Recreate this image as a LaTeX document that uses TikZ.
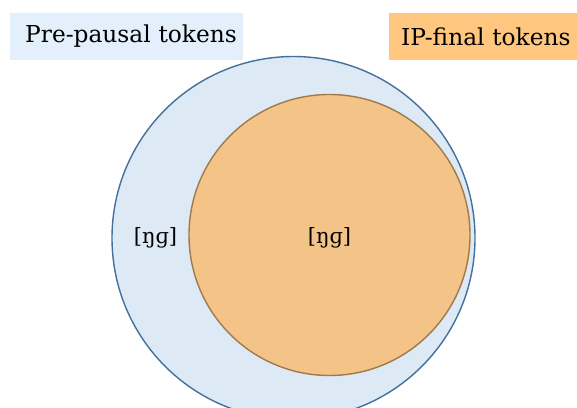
\documentclass[tikz,border=0pt]{standalone}
\usepackage{fontspec}
\setmainfont{DejaVu Serif}
\definecolor{outerfill}{HTML}{DDE9F5}
\definecolor{outerline}{HTML}{41719C}
\definecolor{innerfill}{HTML}{F4C388}
\definecolor{innerline}{HTML}{A07A4C}
\definecolor{keyblue}{HTML}{E3EFFB}
\definecolor{keyorange}{HTML}{FFC680}
\tikzset{
	keybox/.style={minimum height=47pt, inner sep=0pt, anchor=west, align=left, font=\fontsize{23.3}{28}\selectfont},
	sound/.style={font=\fontsize{21}{25}\selectfont}
}
\begin{document}
\begin{tikzpicture}[x=1pt, y=-1pt]
		\clip (0,0) rectangle (577,407);

		\node[circle, draw=outerline, fill=outerfill, line width=1.4pt, minimum size=363pt, inner sep=0pt] (prepausal) at (293.5,238) {};
		\node[circle, draw=innerline, fill=innerfill, line width=1.4pt, minimum size=281pt, inner sep=0pt] (ipfinal) at (329.5,235) {};

		\node[sound] (outerng) at (155.5,238) {[ŋɡ]};
		\node[sound] (innerng) at (329.5,238) {[ŋɡ]};

		\node[keybox, fill=keyblue, text width=233pt] (prekey) at (10,36.5) {\hspace{15pt}Pre-pausal tokens};
		\node[keybox, fill=keyorange, text width=200pt] (ipkey) at (389,36.5) {\hspace{12pt}IP-final tokens};
	\end{tikzpicture}
\end{document}
